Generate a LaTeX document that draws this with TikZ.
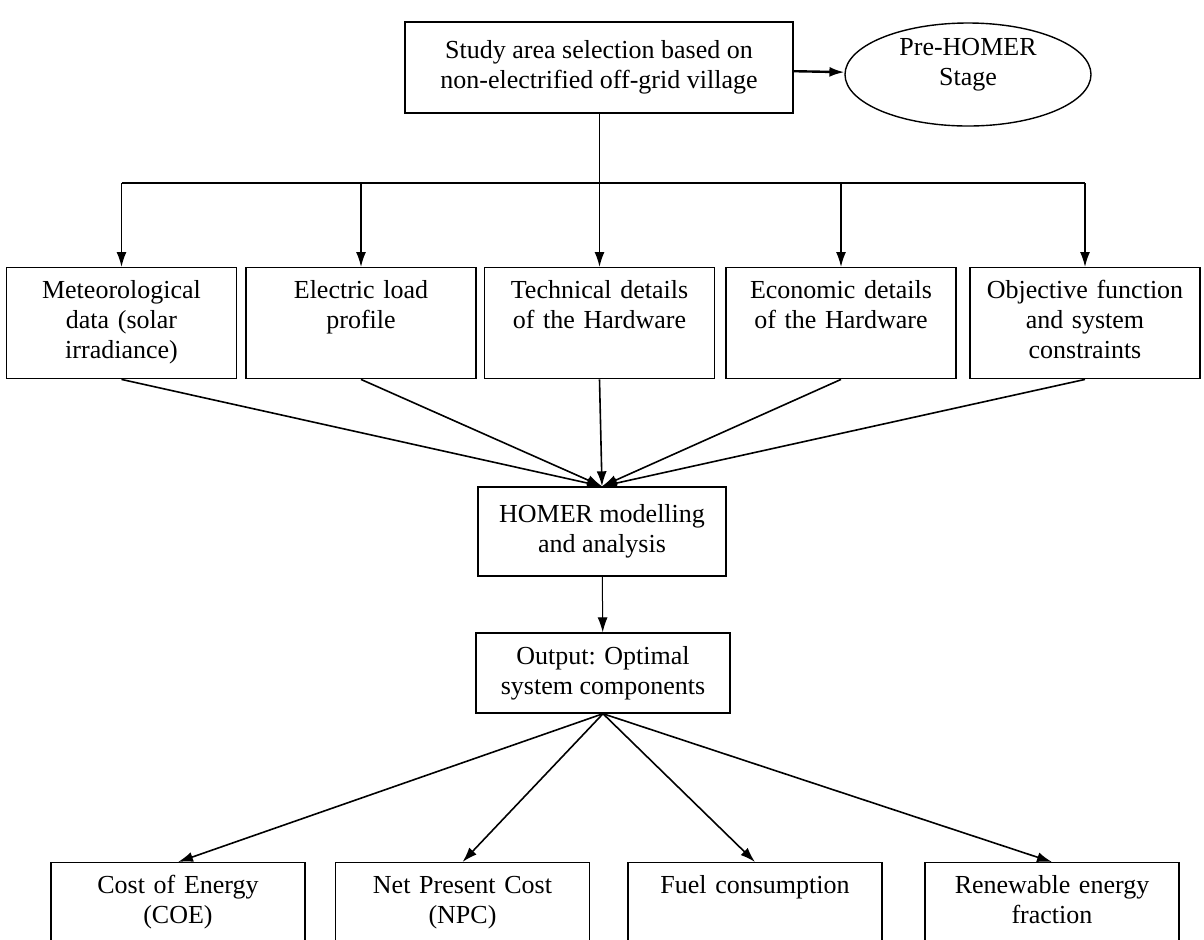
\documentclass[tikz,border=0pt]{standalone}
\usepackage{fontspec}
\setmainfont{Liberation Serif}
\usetikzlibrary{shapes.geometric,arrows.meta}
\begin{document}
\begin{tikzpicture}[x=0.5pt,y=-0.5pt,
    every node/.style={font=\fontsize{13}{15}\selectfont},
    box/.style={draw,line width=0.7pt,inner sep=0pt,align=center,minimum width=#1},
    topbox/.style={draw,line width=0.7pt,inner sep=0pt,anchor=north,align=center,
        text width=#1,text height=15.5pt,text depth=40pt},
    oval/.style={draw,ellipse,line width=0.7pt,inner sep=0pt,align=center,text width=70pt,
        minimum width=123pt,minimum height=51.5pt,text height=5pt,text depth=24.5pt},
    arr/.style={-{Latex[length=7.5pt,width=5pt]},line width=0.8pt}]
    \useasboundingbox (0,0) rectangle (1204,939);
    \clip (0,0) rectangle (1204,939);
    \node [box=194pt,minimum height=45.5pt] (study) at (599,67.5) {Study area selection based on\\non-electrified off-grid village};
    \node [oval] (pre) at (968,74.5) {Pre-HOMER\\Stage};
    \coordinate (bus) at (599,183);
    \node [topbox=115pt] (met) at (121.5,267) {Meteorological\\data (solar\\irradiance)};
    \node [topbox=115pt] (load) at (361,267) {Electric load\\profile};
    \node [topbox=115pt] (tech) at (599.5,267) {Technical details\\of the Hardware};
    \node [topbox=115pt] (econ) at (841,267) {Economic details\\of the Hardware};
    \node [topbox=115pt] (obj) at (1085,267) {Objective function\\and system\\constraints};
    \node [box=124pt,minimum height=44.5pt] (homer) at (602,531.5) {HOMER modelling\\and analysis};
    \node [box=127pt,minimum height=40pt] (out) at (603,673) {Output: Optimal\\system components};
    \node [topbox=127pt] (coe) at (178,862) {Cost of Energy\\(COE)};
    \node [topbox=127pt] (npc) at (462.5,862) {Net Present Cost\\(NPC)};
    \node [topbox=127pt] (fuel) at (755,862) {Fuel consumption};
    \node [topbox=127pt] (ren) at (1052,862) {Renewable energy\\fraction};
    \draw [arr,line width=1.2pt] (study) -- (pre);
    \draw [line width=0.5pt] (study) -- (bus);
    \draw [line width=0.8pt] (bus -| met) -- (bus -| obj);
    \foreach \n in {met,load,tech,econ,obj}
        \draw [arr] (bus -| \n) -- (\n);
    \foreach \n in {met,load,tech,econ,obj}
        \draw [arr] (\n.south) -- (homer.north);
    \draw [arr,line width=0.5pt] (homer) -- (out);
    \foreach \n in {coe,npc,fuel,ren}
        \draw [arr] (out.south) -- (\n.north);
\end{tikzpicture}
\end{document}
